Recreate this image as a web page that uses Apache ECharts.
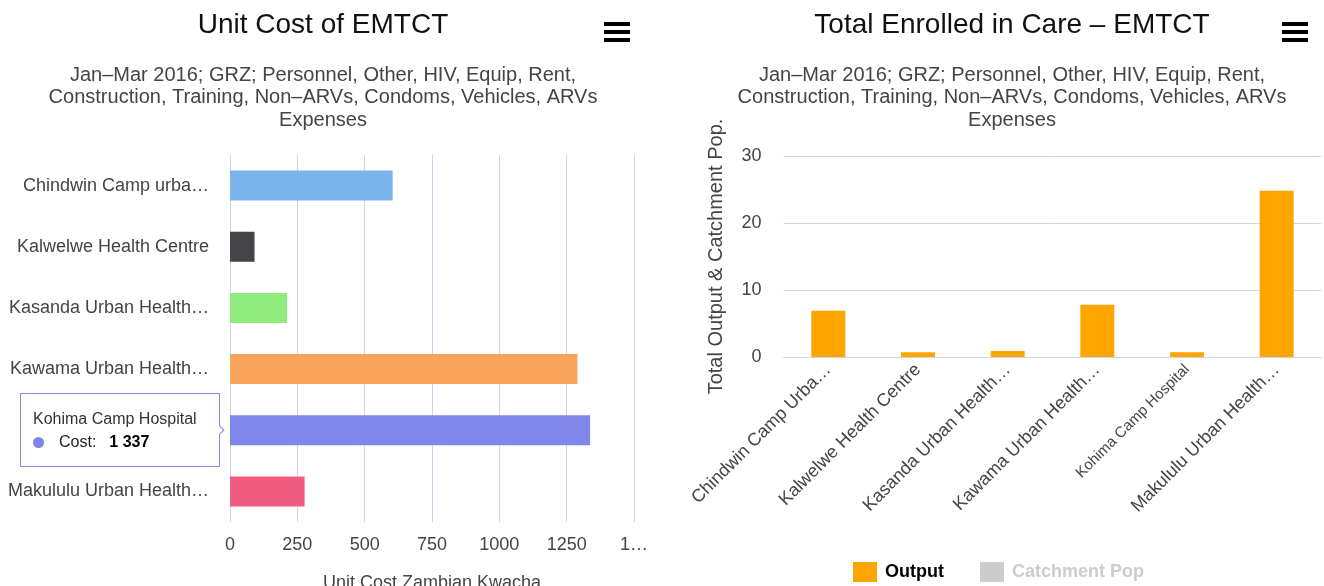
<!DOCTYPE html>
<html>
<head>
<meta charset="utf-8">
<script src="https://cdn.jsdelivr.net/npm/echarts@6/dist/echarts.min.js"></script>
<style>
  html, body { margin: 0; padding: 0; background: #fff; }
  #main { width: 1324px; height: 586px; }
</style>
</head>
<body>
<div id="main"></div>
<script>
// left chart - unit cost per facility
var costFacilities = ['Chindwin Camp urba…', 'Kalwelwe Health Centre', 'Kasanda Urban Health…', 'Kawama Urban Health…', 'Kohima Camp Hospital', 'Makululu Urban Health…']
var costValues = [604, 91, 212, 1290, 1337, 277]
var costColors = ['#7cb5ec', '#434348', '#90ed7d', '#f7a35c', '#8085e9', '#f15c80']
var costTicks = ['0', '250', '500', '750', '1000', '1250', '1…']

// right chart - total enrolled in care
var careFacilities = ['Chindwin Camp Urba…', 'Kalwelwe Health Centre', 'Kasanda Urban Health…', 'Kawama Urban Health…', 'Kohima Camp Hospital', 'Makululu Urban Health…']
var outputValues = [6.9, 0.7, 0.9, 7.8, 0.7, 24.8]
var catchmentValues = [] // series is switched off in the picture

var subtitle = 'Jan–Mar 2016; GRZ; Personnel, Other, HIV, Equip, Rent,\nConstruction, Training, Non–ARVs, Condoms, Vehicles, ARVs\nExpenses'
var FONT = '"Liberation Sans", Arial, Helvetica, sans-serif'
var LINE = '#ccd6eb'
var LABEL = '#444'

function menuIcon(x) {
  return {
    type: 'group', left: x, top: 22,
    children: [0, 8, 16].map(function (y) {
      return { type: 'rect', shape: { x: 0, y: y, width: 26, height: 4 }, style: { fill: '#000' } }
    })
  }
}

function fmtNum(v) {
  return String(v).replace(/\B(?=(\d{3})+(?!\d))/g, ' ')
}

var myChart = echarts.init(document.getElementById('main'))

myChart.setOption({
  animation: false,
  textStyle: { fontFamily: FONT },
  title: [
    {
      text: 'Unit Cost of EMTCT', subtext: subtitle,
      left: 318, top: 4, textAlign: 'center', itemGap: 23,
      textStyle: { fontSize: 28, fontWeight: 'normal', color: '#111', lineHeight: 32 },
      subtextStyle: { fontSize: 20, color: '#444', lineHeight: 22.5 }
    },
    {
      text: 'Total Enrolled in Care – EMTCT', subtext: subtitle,
      left: 1007, top: 4, textAlign: 'center', itemGap: 23,
      textStyle: { fontSize: 28, fontWeight: 'normal', color: '#111', lineHeight: 32 },
      subtextStyle: { fontSize: 20, color: '#444', lineHeight: 22.5 }
    }
  ],
  graphic: [menuIcon(604), menuIcon(1282)],
  legend: {
    data: ['Output', 'Catchment Pop'],
    selected: { 'Catchment Pop': false },
    left: 848, top: 557,
    icon: 'rect', itemWidth: 24, itemHeight: 20, itemGap: 36,
    inactiveColor: '#ccc',
    textStyle: { fontSize: 18, fontWeight: 'bold', color: '#000', padding: [0, 0, 0, 3] }
  },
  tooltip: {
    trigger: 'item',
    triggerOn: 'none',
    alwaysShowContent: true,
    position: 'left',
    transitionDuration: 0,
    backgroundColor: '#fff',
    borderColor: '#8085e9',
    borderWidth: 1,
    padding: [15, 22, 14, 12],
    extraCssText: 'box-shadow:none;border-radius:0;',
    textStyle: { fontFamily: FONT, fontSize: 16, color: '#333' },
    formatter: function (p) {
      return '<div style="line-height:20px;font-size:16px;color:#333">' + p.name + '</div>' +
        '<div style="line-height:20px;font-size:16px;color:#222;margin-top:3px">' +
        '<span style="display:inline-block;width:11px;height:11px;border-radius:6px;background:' + p.color + ';margin-right:15px;vertical-align:-1px"></span>' +
        'Cost:<b style="margin-left:13px;color:#000">' + fmtNum(p.value) + '</b></div>'
    }
  },
  grid: [
    { left: 230, top: 155, width: 404, height: 367, outerBoundsMode: 'none' },
    { left: 783.5, top: 156, width: 538, height: 201, outerBoundsMode: 'none' }
  ],
  xAxis: [
    {
      gridIndex: 0, type: 'value', min: 0, max: 1500, interval: 250,
      axisLine: { show: false }, axisTick: { show: false },
      splitLine: { lineStyle: { color: LINE } },
      axisLabel: {
        fontSize: 18, color: LABEL, margin: 14,
        formatter: function (v, i) { return costTicks[i] }
      },
      name: 'Unit Cost Zambian Kwacha', nameLocation: 'middle', nameGap: 52,
      nameTextStyle: { fontSize: 18, color: LABEL }
    },
    {
      gridIndex: 1, type: 'category', data: careFacilities,
      axisLine: { lineStyle: { color: LINE } },
      axisTick: { length: 15, lineStyle: { color: LINE } },
      axisLabel: {
        interval: 0, rotate: 45, fontSize: 18, color: LABEL, margin: 10,
        formatter: function (v) { return v === 'Kohima Camp Hospital' ? '{s|' + v + '}' : v },
        rich: { s: { fontSize: 15, color: LABEL } }
      }
    }
  ],
  yAxis: [
    {
      gridIndex: 0, type: 'category', data: costFacilities, inverse: true,
      axisLine: { lineStyle: { color: LINE } },
      axisTick: { length: 14, lineStyle: { color: LINE } },
      axisLabel: { fontSize: 18, color: LABEL, margin: 21 }
    },
    {
      gridIndex: 1, type: 'value', min: 0, max: 30, interval: 10,
      splitLine: { lineStyle: { color: LINE } },
      axisLabel: { fontSize: 18, color: LABEL, margin: 22 },
      name: 'Total Output & Catchment Pop.', nameLocation: 'middle', nameGap: 57,
      nameTextStyle: { fontSize: 20, color: LABEL }
    }
  ],
  series: [
    {
      name: 'Cost', type: 'bar', xAxisIndex: 0, yAxisIndex: 0, barWidth: 30,
      data: costValues.map(function (v, i) {
        return { value: v, itemStyle: { color: costColors[i] } }
      })
    },
    {
      name: 'Output', type: 'bar', xAxisIndex: 1, yAxisIndex: 1, barWidth: 34,
      itemStyle: { color: '#ffa500' }, data: outputValues
    },
    {
      name: 'Catchment Pop', type: 'bar', xAxisIndex: 1, yAxisIndex: 1, barWidth: 34,
      itemStyle: { color: '#434348' }, data: catchmentValues
    }
  ]
})

myChart.dispatchAction({ type: 'showTip', seriesIndex: 0, dataIndex: 4 })
</script>
</body>
</html>
